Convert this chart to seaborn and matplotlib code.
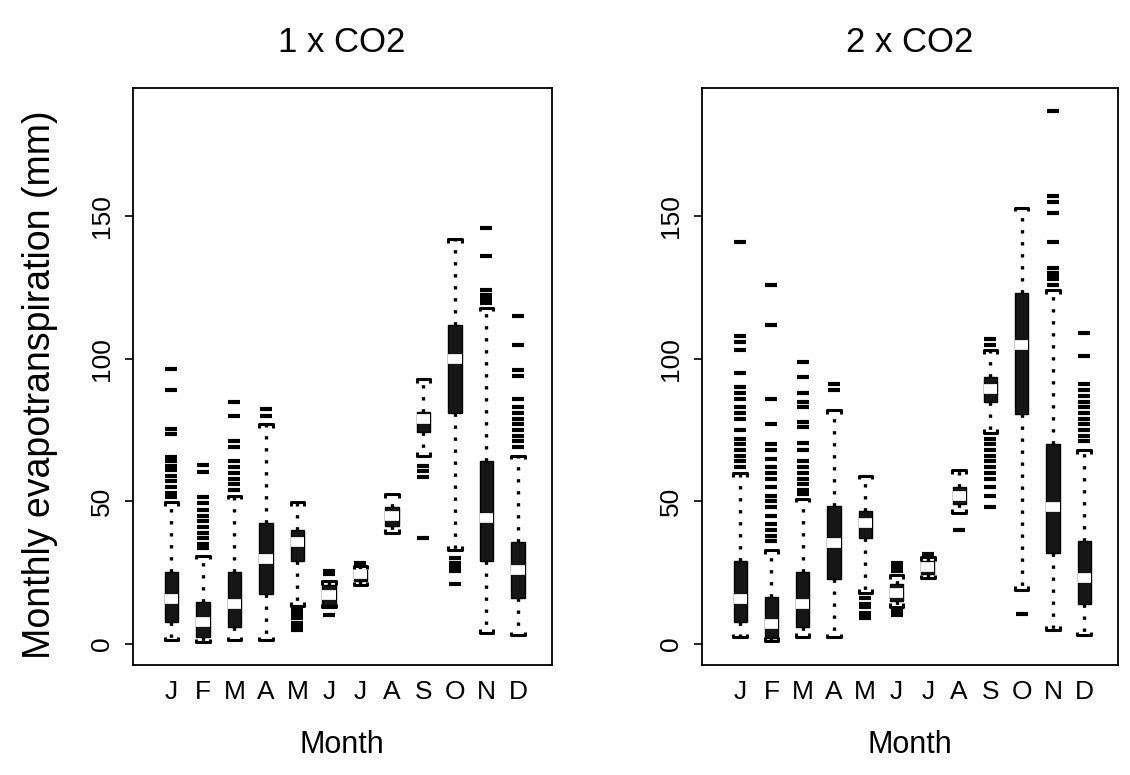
import numpy as np
import pandas as pd
import matplotlib
matplotlib.use("Agg")
import matplotlib.pyplot as plt
from matplotlib.path import Path
import seaborn as sns

# ---------------- data ----------------
month_keys = ["Jan", "Feb", "Mar", "Apr", "May", "Jun",
              "Jul", "Aug", "Sep", "Oct", "Nov", "Dec"]
month_letters = ["J", "F", "M", "A", "M", "J", "J", "A", "S", "O", "N", "D"]
panel_titles = ["1 x CO2", "2 x CO2"]
y_ticks = [0, 50, 100, 150]

# 1 x CO2 : five-number summaries per month
lo_1x  = [1.2, 0.5, 1.2, 1.2, 13.4, 12.8, 20.5, 39.0, 66.0, 33.0, 4.0, 3.0]
q1_1x  = [7.8, 2.5, 6.0, 17.5, 29.2, 13.5, 22.0, 41.5, 74.5, 81.0, 29.0, 16.0]
med_1x = [15.8, 7.7, 14.0, 29.8, 35.7, 17.0, 24.5, 45.0, 79.0, 100.0, 44.0, 26.0]
q3_1x  = [25.2, 14.6, 25.2, 42.4, 39.8, 20.5, 26.0, 48.0, 81.5, 112.0, 64.0, 35.7]
hi_1x  = [49.7, 31.0, 52.0, 77.2, 49.7, 22.0, 27.5, 52.5, 93.0, 142.0, 118.0, 66.0]
out_1x = [
    [96.5, 88.9, 75.4, 73.5, 65.5, 64.0, 62.5, 61.0, 59.0, 57.0, 55.0, 53.0, 51.5],
    [62.6, 60.2, 51.5, 49.5, 47.0, 45.0, 43.0, 41.0, 39.0, 37.0, 35.0, 33.5],
    [85.0, 80.0, 71.0, 69.0, 64.0, 62.0, 60.0, 58.0, 56.0, 54.0],
    [82.5, 80.0],
    [12.0, 10.5, 9.0, 7.5, 6.0, 5.0],
    [25.5, 24.5, 10.0],
    [28.5],
    [],
    [62.5, 60.5, 58.5, 37.0],
    [30.0, 28.5, 27.0, 25.5, 21.0],
    [146.0, 136.0, 124.0, 122.5, 121.0, 119.5],
    [115.0, 105.0, 96.0, 94.0, 86.0, 83.0, 81.0, 79.0, 77.0, 75.0, 73.0, 71.0, 69.0],
]

# 2 x CO2
lo_2x  = [2.3, 1.0, 2.5, 2.3, 18.0, 13.0, 23.0, 46.0, 74.0, 19.0, 5.0, 3.0]
q1_2x  = [7.6, 2.0, 5.8, 22.8, 37.0, 15.0, 24.5, 49.0, 85.0, 80.6, 32.0, 14.0]
med_2x = [15.8, 7.0, 14.0, 35.3, 42.5, 18.0, 27.0, 52.0, 89.5, 105.0, 48.0, 23.0]
q3_2x  = [29.2, 16.4, 25.2, 48.2, 46.5, 21.0, 29.0, 55.0, 93.5, 123.0, 70.0, 36.0]
hi_2x  = [60.0, 33.0, 51.0, 82.0, 59.0, 24.0, 30.5, 61.0, 103.0, 153.0, 124.0, 68.0]
out_2x = [
    [141.0, 108.0, 106.0, 103.0, 95.0, 90.0, 88.0, 86.0, 83.0, 81.0, 79.0, 75.0,
     72.0, 70.0, 68.0, 66.0, 64.0, 62.0],
    [126.0, 112.0, 86.0, 77.0, 70.0, 68.0, 65.0, 62.0, 60.0, 58.0, 55.0, 52.0,
     50.0, 48.0, 45.0, 42.0, 40.0, 38.0, 36.0],
    [99.0, 93.5, 88.0, 85.0, 83.0, 78.0, 76.0, 70.5, 68.0, 64.0, 62.0, 60.0,
     58.0, 56.0, 54.0, 52.5],
    [91.0, 89.0],
    [16.0, 14.0, 13.0, 11.0, 10.0, 9.0],
    [28.5, 27.0, 26.0, 25.5, 11.5, 10.0],
    [31.5],
    [40.0],
    [107.0, 105.0, 72.0, 70.0, 68.0, 66.0, 64.0, 62.0, 60.0, 58.0, 55.0, 52.0, 48.0],
    [10.5],
    [187.0, 157.0, 155.0, 151.0, 141.0, 132.0, 130.0, 129.0, 128.0, 126.0],
    [109.0, 101.0, 91.0, 89.0, 87.0, 85.0, 83.0, 81.0, 79.0, 77.0, 75.0, 73.0, 71.0],
]

panels = [
    (lo_1x, q1_1x, med_1x, q3_1x, hi_1x, out_1x),
    (lo_2x, q1_2x, med_2x, q3_2x, hi_2x, out_2x),
]

# ---------------- style ----------------
sns.set_style("ticks")
plt.rcParams["font.family"] = ["Liberation Sans", "DejaVu Sans"]
plt.rcParams["axes.linewidth"] = 1.3
for k in ["text.color", "axes.labelcolor", "xtick.color", "ytick.color",
          "axes.edgecolor"]:
    plt.rcParams[k] = "black"

upper_cap = Path([(-1, -0.55), (-1, 0), (1, 0), (1, -0.55)],
                 [Path.MOVETO, Path.LINETO, Path.LINETO, Path.LINETO])
lower_cap = Path([(-1, 0.55), (-1, 0), (1, 0), (1, 0.55)],
                 [Path.MOVETO, Path.LINETO, Path.LINETO, Path.LINETO])

fig = plt.figure(figsize=(11.3, 7.75), dpi=100)
W, H = 1130.0, 775.0
ax_rects = [
    [133 / W, (H - 665) / H, 419 / W, 577 / H],
    [702 / W, (H - 665) / H, 416 / W, 577 / H],
]
title_x = [342 / W, 910 / W]

for p, (lo, q1, med, q3, hi, outs) in enumerate(panels):
    ax = fig.add_axes(ax_rects[p])

    # long table: 5 summary values per month -> quartiles/whiskers exact
    rows = []
    for i, key in enumerate(month_keys):
        for v in (lo[i], q1[i], med[i], q3[i], hi[i]):
            rows.append({"month": key, "value": v})
    box_df = pd.DataFrame(rows)

    sns.boxplot(
        data=box_df, x="month", y="value", order=month_keys, ax=ax,
        whis=(0, 100), width=0.42, showcaps=False, showfliers=False,
        color="#161616", linecolor="black", linewidth=1.0,
        boxprops=dict(facecolor="#161616", edgecolor="black"),
        whiskerprops=dict(color="black", linestyle=(0, (1, 2.6)), linewidth=2.4),
        medianprops=dict(color="white", linewidth=7, solid_capstyle="butt"),
    )

    # bracket caps at whisker ends
    pos = np.arange(len(month_keys))
    cap_df_hi = pd.DataFrame({"x": pos, "y": hi})
    cap_df_lo = pd.DataFrame({"x": pos, "y": lo})
    sns.scatterplot(data=cap_df_hi, x="x", y="y", marker=upper_cap, s=95,
                    color="black", facecolor="none", edgecolor="black",
                    linewidth=2.2, ax=ax, zorder=4)
    sns.scatterplot(data=cap_df_lo, x="x", y="y", marker=lower_cap, s=95,
                    color="black", facecolor="none", edgecolor="black",
                    linewidth=2.2, ax=ax, zorder=4)

    # outliers as short horizontal dashes
    ox, oy = [], []
    for i, vals in enumerate(outs):
        for v in vals:
            ox.append(i)
            oy.append(v)
    out_df = pd.DataFrame({"x": ox, "y": oy})
    sns.scatterplot(data=out_df, x="x", y="y", marker="_", s=75,
                    color="black", linewidth=3.0, ax=ax, zorder=4)

    ax.set_xlim(-1.22, 12.08)
    ax.set_ylim(-7.4, 195)
    ax.set_xticks(pos)
    ax.set_xticklabels(month_letters, fontsize=19)
    ax.set_yticks(y_ticks)
    ax.set_yticklabels([str(t) for t in y_ticks], fontsize=19,
                       rotation=90, va="center")
    ax.tick_params(axis="x", length=0, pad=11)
    ax.tick_params(axis="y", length=6, width=1.2, pad=8)
    ax.set_xlabel("")
    ax.set_ylabel("")
    for sp in ax.spines.values():
        sp.set_visible(True)
        sp.set_color("black")
        sp.set_linewidth(1.3)
    ax.grid(False)

    fig.text(title_x[p], 1 - 42 / H, panel_titles[p], ha="center",
             va="center", fontsize=25)
    fig.text(title_x[p], 1 - 745 / H, "Month", ha="center", va="center",
             fontsize=22)

fig.text(40 / W, 1 - 385 / H, "Monthly evapotranspiration (mm)",
         rotation=90, ha="center", va="center", fontsize=27)

fig.savefig("out.png", dpi=100)
